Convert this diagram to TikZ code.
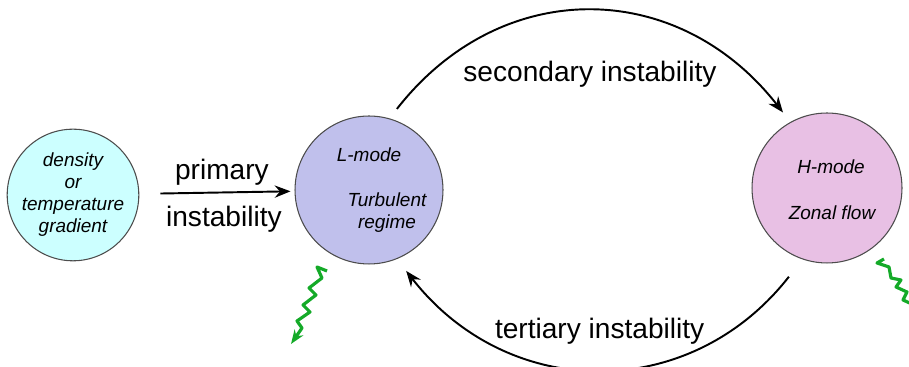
\documentclass[tikz,border=0pt]{standalone}
\usepackage{fontspec}
\setmainfont{Liberation Sans}
\usetikzlibrary{arrows.meta, positioning}

\definecolor{gradfill}{RGB}{204,255,255}
\definecolor{lfill}{RGB}{192,192,236}
\definecolor{hfill}{RGB}{232,192,228}
\definecolor{kickgreen}{RGB}{20,170,40}

\tikzstyle{phase} = [circle, draw=black!70, line width=0.6pt, align=center, inner sep=0pt, font=\fontsize{10.8}{12.5}\selectfont\itshape]
\tikzstyle{modetext} = [align=center, inner sep=0pt, font=\fontsize{10.8}{12.5}\selectfont\itshape]
\tikzstyle{arrowtext} = [font=\fontsize{16}{19}\selectfont]
\tikzstyle{arrow} = [line width=1.1pt, -{Stealth[length=9pt, width=7pt, inset=3pt]}]
\tikzstyle{kick} = [line width=1.8pt, draw=kickgreen, line join=round, -{Stealth[length=8pt, width=6pt]}]

\begin{document}
\begin{tikzpicture}[x=0.02cm, y=0.02cm]
\useasboundingbox (0,0) rectangle (909,367);

% Nodes
\node (gradient) [phase, fill=gradfill, minimum size=2.48cm] at (73,172) {density\\or\\temperature\\gradient};

\node (lmode) [phase, fill=lfill, minimum size=2.96cm] at (369,177) {};
\node (lname) [modetext] at ([shift={(0,35)}]lmode.center) {L-mode};
\node (lregime) [modetext] at ([shift={(18,-23)}]lmode.center) {Turbulent\\regime};

\node (hmode) [phase, fill=hfill, minimum size=3cm] at (827,179) {};
\node (hname) [modetext] at ([shift={(4,21)}]hmode.center) {H-mode};
\node (hflow) [modetext] at ([shift={(5,-25)}]hmode.center) {Zonal flow};

% Arrows
\draw [arrow, shorten <=0.42cm, shorten >=0.08cm] (gradient) -- (lmode)
  node [arrowtext, midway, above, xshift=0.1cm] {primary}
  node [arrowtext, midway, below=4pt, xshift=0.14cm] {instability};

\draw [arrow, shorten <=0.24cm, shorten >=0.24cm] (lmode.74) to[out=52, in=128, looseness=1.16]
  node [arrowtext, below=24pt] {secondary instability} (hmode.119);

\draw [arrow, shorten <=0.44cm, shorten >=0.3cm] (hmode.251) to[out=232, in=-52, looseness=1.15]
  node [arrowtext, above=9pt] {tertiary instability} (lmode.292);

% Emission
\draw [kick] (327,96) -- (317,100) -- (322,89) -- (309,79) -- (316,72) -- (303,62) -- (310,55) -- (297,46) -- (302,39) -- (291,23);
\draw [kick] (884,108) -- (877,104) -- (889,100) -- (891,89) -- (901,87) -- (896,80) -- (907,75) -- (903,67) -- (914,62) -- (911,54) -- (925,38);

\end{tikzpicture}
\end{document}
